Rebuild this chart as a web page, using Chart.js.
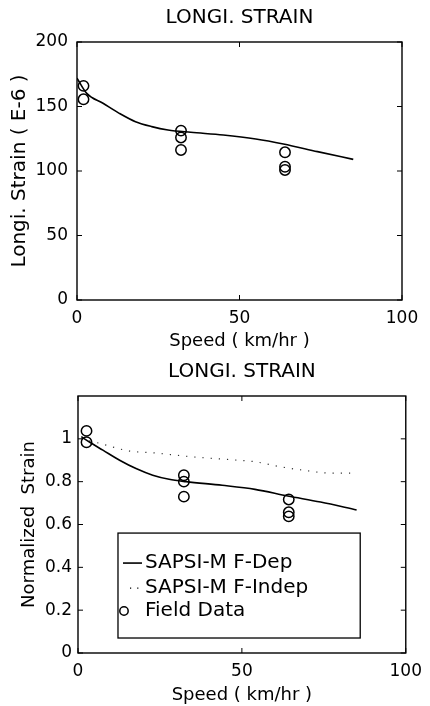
<!DOCTYPE html>
<html>
<head>
<meta charset="utf-8">
<script src="https://cdn.jsdelivr.net/npm/chart.js@4.4.1/dist/chart.umd.min.js"></script>
<style>
  html, body { margin: 0; padding: 0; background: #fff; }
  #wrap { position: relative; width: 430px; height: 706px; overflow: hidden; }
  .box { position: absolute; left: 0; width: 430px; }
  #b1 { top: 0; height: 352px; }
  #b2 { top: 352px; height: 354px; }
</style>
</head>
<body>
<div id="wrap">
  <div class="box" id="b1"><canvas id="c1"></canvas></div>
  <div class="box" id="b2"><canvas id="c2"></canvas></div>
</div>
<script>
// ---------- Top panel: longitudinal strain (E-6) ----------
const topFieldSpeed  = [2, 2, 32, 32, 32, 64, 64, 64];
const topFieldStrain = [166, 155.6, 131.3, 126, 116.3, 114.5, 103.3, 100.8];
const topDepSpeed    = [0, 3, 8, 13, 18, 23, 28, 35, 45, 55, 63.5, 74, 85];
const topDepStrain   = [172, 160.2, 152.5, 144.7, 138.2, 134.4, 131.8, 130, 127.9, 124.8, 120.9, 115, 109];
const topYTicks      = [0, 50, 100, 150, 200];
const xTicks         = [0, 50, 100];

// ---------- Bottom panel: normalized strain ----------
const botFieldSpeed  = [2.6, 2.6, 32.3, 32.3, 32.3, 64.3, 64.3, 64.3];
const botFieldNorm   = [1.037, 0.984, 0.83, 0.80, 0.73, 0.717, 0.657, 0.638];
const botDepSpeed    = [1, 3.6, 7.6, 12.7, 17.7, 22.8, 27.8, 33, 44, 54, 64, 74, 85];
const botDepNorm     = [1.01, 0.984, 0.947, 0.90, 0.861, 0.83, 0.811, 0.80, 0.783, 0.764, 0.733, 0.705, 0.668];
const botIndepSpeed  = [1, 6.6, 15.7, 22.8, 29.8, 34.8, 48.9, 54, 62, 69, 77, 84];
const botIndepNorm   = [1.0, 0.979, 0.943, 0.935, 0.924, 0.916, 0.90, 0.893, 0.869, 0.853, 0.84, 0.84];
const botYTicks      = [0, 0.2, 0.4, 0.6, 0.8, 1];

const titleText   = 'LONGI. STRAIN';
const legendNames = ['SAPSI-M F-Dep', 'SAPSI-M F-Indep', 'Field Data'];

const FONT = 'DejaVu Sans';
const pts = (xs, ys) => xs.map((x, i) => ({ x: x, y: ys[i] }));

const framePlugin = {
  id: 'frame',
  afterDraw(chart) {
    const { ctx, chartArea: a, scales } = chart;
    const x = scales.x, y = scales.y;
    ctx.save();
    ctx.strokeStyle = '#000';
    ctx.lineWidth = 1.4;
    ctx.strokeRect(a.left, a.top, a.right - a.left, a.bottom - a.top);
    ctx.lineWidth = 1;
    const L = 5;
    ctx.beginPath();
    x.ticks.forEach(t => {
      const p = x.getPixelForValue(t.value);
      ctx.moveTo(p, a.bottom); ctx.lineTo(p, a.bottom - L);
      ctx.moveTo(p, a.top); ctx.lineTo(p, a.top + L);
    });
    y.ticks.forEach(t => {
      const p = y.getPixelForValue(t.value);
      ctx.moveTo(a.left, p); ctx.lineTo(a.left + L, p);
      ctx.moveTo(a.right, p); ctx.lineTo(a.right - L, p);
    });
    ctx.stroke();
    ctx.restore();
  }
};

const legendPlugin = {
  id: 'insideLegend',
  afterDatasetsDraw(chart) {
    const { ctx, scales } = chart;
    const x = scales.x, y = scales.y;
    const left = x.getPixelForValue(12.2), right = x.getPixelForValue(86.1);
    const top = y.getPixelForValue(0.56), bottom = y.getPixelForValue(0.07);
    ctx.save();
    ctx.fillStyle = '#fff';
    ctx.fillRect(left, top, right - left, bottom - top);
    ctx.strokeStyle = '#000';
    ctx.lineWidth = 1.3;
    ctx.strokeRect(left, top, right - left, bottom - top);
    ctx.font = '20px "' + FONT + '"';
    ctx.fillStyle = '#000';
    ctx.textBaseline = 'middle';
    ctx.textAlign = 'left';
    const rows = [top + 30, top + 55, top + 78];
    const tx = left + 27;
    // solid
    ctx.lineWidth = 1.6;
    ctx.beginPath(); ctx.moveTo(left + 5, rows[0]); ctx.lineTo(left + 24, rows[0]); ctx.stroke();
    // dotted
    ctx.lineWidth = 1.2;
    ctx.setLineDash([1.2, 6]);
    ctx.beginPath(); ctx.moveTo(left + 12, rows[1]); ctx.lineTo(left + 24, rows[1]); ctx.stroke();
    ctx.setLineDash([]);
    // circle
    ctx.lineWidth = 1.5;
    ctx.beginPath(); ctx.arc(left + 6, rows[2], 4.2, 0, Math.PI * 2); ctx.stroke();
    legendNames.forEach((n, i) => ctx.fillText(n, tx, rows[i]));
    ctx.restore();
  }
};

function makeChart(id, cfg) {
  return new Chart(document.getElementById(id), {
    type: 'scatter',
    data: { datasets: cfg.datasets },
    options: {
      responsive: true,
      maintainAspectRatio: false,
      animation: false,
      devicePixelRatio: 1,
      layout: { padding: { left: 0, right: cfg.rightPad, top: 0, bottom: 0 } },
      plugins: {
        legend: { display: false },
        tooltip: { enabled: false },
        title: {
          display: true,
          fullSize: false,
          text: titleText,
          color: '#000',
          font: { family: FONT, size: 20, weight: 'normal' },
          padding: { top: cfg.titleTop, bottom: cfg.titleBottom }
        }
      },
      scales: {
        x: {
          type: 'linear',
          min: 0, max: 100,
          afterBuildTicks: s => { s.ticks = xTicks.map(v => ({ value: v })); },
          afterFit: s => { s.height = cfg.xHeight; },
          grid: { display: false, drawTicks: false },
          border: { display: false },
          ticks: { color: '#000', font: { family: FONT, size: 17 }, padding: cfg.xTickPad, maxRotation: 0 },
          title: {
            display: true, text: 'Speed ( km/hr )', color: '#000',
            font: { family: FONT, size: 18 }, padding: { top: 0, bottom: 0 }
          }
        },
        y: {
          type: 'linear',
          min: cfg.yMin, max: cfg.yMax,
          afterBuildTicks: s => { s.ticks = cfg.yTicks.map(v => ({ value: v })); },
          afterFit: s => { s.width = cfg.yWidth; },
          grid: { display: false, drawTicks: false },
          border: { display: false },
          ticks: {
            color: '#000', font: { family: FONT, size: 17 }, padding: cfg.yTickPad,
            callback: v => String(Math.round(v * 10) / 10)
          },
          title: {
            display: true, text: cfg.yTitle, color: '#000',
            font: { family: FONT, size: cfg.yTitleSize }, padding: { top: cfg.yTitlePad, bottom: 0 }
          }
        }
      }
    },
    plugins: cfg.plugins
  });
}

makeChart('c1', {
  rightPad: 28, titleTop: 6, titleBottom: 12, xHeight: 52, xTickPad: 8, yWidth: 77, yTickPad: 9,
  yTitlePad: 8, yTitleSize: 20,
  yMin: 0, yMax: 200, yTicks: topYTicks, yTitle: 'Longi. Strain ( E-6 )',
  plugins: [framePlugin],
  datasets: [
    {
      label: legendNames[0], data: pts(topDepSpeed, topDepStrain), showLine: true,
      borderColor: '#000', borderWidth: 1.6, pointRadius: 0, cubicInterpolationMode: 'monotone', fill: false
    },
    {
      label: legendNames[2], data: pts(topFieldSpeed, topFieldStrain), showLine: false,
      pointStyle: 'circle', pointRadius: 5.2, borderColor: '#000', backgroundColor: 'rgba(0,0,0,0)', pointBorderWidth: 1.5
    }
  ]
});

makeChart('c2', {
  rightPad: 21, titleTop: 8, titleBottom: 12, xHeight: 53, xTickPad: 8, yWidth: 78, yTickPad: 6,
  yTitlePad: 19, yTitleSize: 18,
  yMin: 0, yMax: 1.2, yTicks: botYTicks, yTitle: 'Normalized  Strain',
  plugins: [framePlugin, legendPlugin],
  datasets: [
    {
      label: legendNames[0], data: pts(botDepSpeed, botDepNorm), showLine: true,
      borderColor: '#000', borderWidth: 1.6, pointRadius: 0, cubicInterpolationMode: 'monotone', fill: false
    },
    {
      label: legendNames[1], data: pts(botIndepSpeed, botIndepNorm), showLine: true,
      borderColor: '#333', borderWidth: 1.2, borderDash: [1.2, 7], pointRadius: 0, cubicInterpolationMode: 'monotone', fill: false
    },
    {
      label: legendNames[2], data: pts(botFieldSpeed, botFieldNorm), showLine: false,
      pointStyle: 'circle', pointRadius: 5.2, borderColor: '#000', backgroundColor: 'rgba(0,0,0,0)', pointBorderWidth: 1.5
    }
  ]
});
</script>
</body>
</html>
